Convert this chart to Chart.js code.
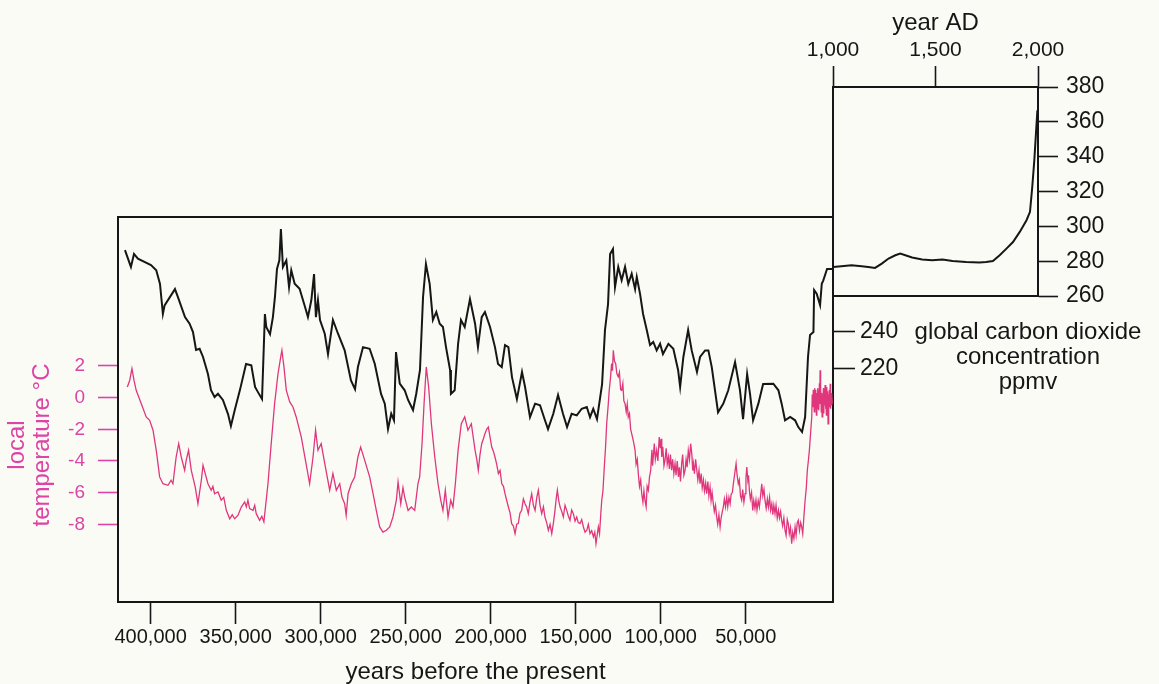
<!DOCTYPE html>
<html>
<head>
<meta charset="utf-8">
<script src="https://cdn.jsdelivr.net/npm/chart.js@4.4.1/dist/chart.umd.min.js"></script>
<style>
  html, body { margin: 0; padding: 0; background: #fbfbf6; }
  #wrap { position: relative; width: 1159px; height: 684px; }
  #wrap canvas { position: absolute; left: 0; top: 0; }
</style>
</head>
<body>
<div id="wrap">
  <canvas id="ice" width="1159" height="684"></canvas>
  <canvas id="recent" width="1159" height="684"></canvas>
</div>
<script>
// Vostok ice core: CO2 (ppmv) against years before present
const co2Years = [415100, 411600, 409800, 407500, 399800, 396700, 394500, 392800, 391800, 385700,
  384000, 379800, 377100, 375100, 373300, 371200, 369200, 366300, 364500, 362400,
  360400, 357500, 354500, 352800, 350600, 347500, 343900, 340800, 338600, 336900,
  334500, 332800, 332000, 329800, 328100, 326900, 325700, 324300, 323400, 322200,
  320200, 318600, 317300, 315300, 312400, 309200, 307500, 305500, 303900, 302800,
  301600, 300400, 297600, 295700, 292800, 289800, 285900, 282200, 279800, 278100,
  275100, 271200, 268200, 264500, 262300, 260400, 258500, 256900, 255700, 253500,
  250600, 248600, 245700, 243800, 241600, 239800, 238100, 235900, 234000, 232000,
  230000, 228100, 226300, 223900, 223400, 221200, 219200, 217500, 215300, 212200,
  209200, 207500, 205300, 203400, 200400, 197500, 195700, 193500, 191600, 189600,
  187500, 184600, 181600, 179800, 176900, 173900, 171000, 168100, 166300, 163200,
  160400, 157500, 155100, 152400, 149400, 146500, 143500, 141600, 139700, 137500,
  134500, 132800, 131000, 129800, 128100, 126900, 125000, 123000, 121000, 119100,
  117100, 115100, 114100, 112200, 110400, 108200, 106300, 104400, 102400, 100400,
  98700, 95500, 92600, 89800, 88600, 86700, 83900, 81800, 78700, 76900,
  73900, 72000, 70000, 68100, 66300, 63200, 60300, 56300, 53400, 51600,
  49200, 47500, 45700, 42600, 39800, 33800, 30800, 28900, 26900, 23900,
  21000, 19100, 16900, 15100, 13400, 12200, 10200, 9800, 8300, 6300,
  5300, 4400, 2200, -1300];
const co2Ppmv = [284.6, 275.4, 282.5, 279.9, 276.4, 273.6, 266.1, 249.7, 254.4, 263.3,
  259.0, 248.0, 244.4, 239.8, 230.0, 230.7, 226.2, 216.9, 208.1, 204.3,
  206.1, 202.7, 195.0, 188.5, 197.0, 208.1, 222.4, 221.6, 209.8, 207.0,
  203.2, 249.7, 242.6, 238.7, 248.0, 259.0, 274.3, 279.0, 296.1, 275.4,
  279.0, 264.4, 273.6, 266.2, 263.5, 253.5, 248.0, 257.2, 271.5, 248.0,
  257.2, 246.4, 238.9, 227.8, 246.4, 238.9, 229.8, 213.4, 208.6, 220.7,
  231.6, 230.7, 222.5, 206.0, 200.7, 186.8, 195.2, 191.6, 228.9, 211.6,
  208.0, 202.7, 197.2, 206.1, 219.1, 259.0, 277.0, 266.2, 246.4, 250.8,
  244.4, 242.6, 231.6, 219.1, 206.0, 208.0, 233.3, 246.4, 242.6, 257.8,
  244.4, 231.6, 248.0, 250.8, 242.6, 231.6, 222.4, 220.7, 232.7, 231.6,
  215.2, 203.2, 218.0, 209.8, 193.3, 200.7, 199.8, 191.6, 186.8, 195.2,
  205.4, 195.2, 187.9, 195.2, 194.3, 197.9, 198.9, 193.3, 197.9, 192.2,
  211.4, 240.9, 255.1, 282.4, 285.2, 264.4, 275.4, 268.1, 275.4, 266.2,
  271.7, 263.3, 269.9, 260.8, 249.7, 240.8, 232.7, 234.4, 229.8, 233.4,
  227.8, 233.4, 230.7, 219.1, 209.8, 226.2, 240.9, 229.8, 218.0, 226.2,
  229.8, 229.8, 220.7, 208.0, 196.0, 200.7, 208.0, 223.4, 208.0, 192.2,
  216.9, 206.1, 191.6, 200.7, 211.4, 211.6, 208.0, 200.7, 191.6, 193.4,
  191.6, 187.9, 185.2, 193.4, 226.2, 238.2, 239.8, 262.8, 260.8, 254.6,
  266.2, 268.1, 274.3, 274.3];

// Local temperature anomaly (deg C) against years before present
const tempYears = [
  413700, 412300, 411000, 409800, 408500, 405500, 402600, 400600, 398600, 396700,
  394700, 392800, 389800, 388000, 386900, 385000, 383500, 382000, 380000, 379100,
  377700, 376100, 373800, 372200, 370200, 369200, 367900, 366300, 364400, 363400,
  362400, 360400, 358500, 357000, 355500, 353500, 352000, 350600, 348600, 346700,
  344700, 343700, 342800, 341800, 339800, 338800, 337900, 335900, 334600, 333400,
  331000, 329100, 327100, 325100, 323500, 322800, 321600, 320200, 318200, 316300,
  314400, 311400, 308600, 306500, 304500, 303000, 301600, 299700, 297600, 294700,
  292800, 290800, 288800, 287500, 285900, 285000, 283900, 282000, 280000, 278100,
  276500, 274100, 271200, 269200, 267300, 265300, 263400, 261400, 259400, 257500,
  255500, 254500, 252900, 251600, 250600, 248600, 246700, 244700, 242800, 241800,
  240400, 239200, 237900, 236500, 234900, 232900, 231000, 229400, 228100, 226700,
  225100, 223500, 222200, 220800, 219200, 217300, 215300, 213400, 211400,
  209200, 208200, 207300, 206300, 205300, 204300, 203400, 202400, 201400, 200400,
  199400, 198400, 197500, 196500, 195500, 194500, 193500, 192500, 191600, 190600,
  189600, 188600, 187700, 186700, 185700, 184700, 183800, 182800, 181800, 180800,
  179800, 178900, 177900, 176900, 175900, 174900, 173900, 172900, 172000, 171000,
  170000, 169000, 168100, 167100, 166100, 165100, 164100, 163100, 162200, 161500,
  160800, 160000, 159200, 158200, 157300, 156300, 155300, 154300, 153400, 152400,
  151400, 150400, 149400, 148500, 147500, 146500, 145500, 144500, 143500, 142600,
  141600, 140600, 139600, 138800, 138100,
  136700, 136000, 135300, 134700, 134000, 133200, 132500, 131800, 131000, 130300,
  129600, 128900, 128400, 127900, 127200, 126500, 125800, 125000, 124300, 123600,
  123000, 122300, 121700, 121000, 120300, 119700, 119100, 118400, 117700, 117100,
  116400, 115800, 115100, 114500, 113800, 113200, 112500, 111800, 111200, 110500,
  109900, 109300, 108600, 108000, 107300, 106600, 105900, 105200, 104800, 104400,
  103800, 103200, 102400, 101700, 100900, 100300, 99800, 99400, 98800, 98100,
  97500, 96800, 96200, 95500, 94900, 94300, 93600, 93000, 92300, 91600,
  91000, 90300, 89600, 89000, 88400, 87700, 87100, 86400, 85700, 85100,
  84500, 83800, 83100, 82400, 81700, 81200, 80800, 80200, 79500, 78800,
  78200, 77500, 76900, 76200, 75600, 74900, 74300, 73600, 73000, 72300,
  71700, 71000, 70400, 69800, 69100, 68500, 67800, 67100, 66500, 65800,
  65100, 64500, 63800, 63200, 62600, 61900, 61200, 60600, 59900, 59200,
  58600, 57900, 57300, 56500, 55700, 55100, 54400, 53800, 53100, 52400,
  51800, 51100, 50400, 49900, 49400, 48800, 48400, 47900, 47300, 46600,
  45900, 45300, 44600, 44000, 43400, 42700, 42000, 41300, 40600, 40000,
  39300, 38700, 38000, 37300, 36700, 36000, 35400, 34700, 34100, 33500,
  32800, 32200, 31500, 30800, 30200, 29500, 28900, 28300, 27600, 26900,
  26300, 25600, 25000, 24400, 23700, 23000, 22400, 21700, 21000, 20400,
  19700, 19100, 18400, 17700, 17100, 16500, 15800, 15100, 14400, 13800,
  13200, 12600,
  11200, 10900, 10600, 10300, 10000, 9700, 9450, 9200, 8950, 8700,
  8450, 8200, 7950, 7700, 7450, 7200, 6950, 6700, 6450, 6300,
  6100, 5850, 5600, 5350, 5100, 4850, 4600, 4350, 4100, 3850,
  3600, 3350, 3100, 2850, 2600, 2350, 2100, 1850, 1600, 1350,
  1100, 850, 600, 350, 100, -150, -400, -650, -900];
const tempC = [
  0.67, 1.10, 1.83, 1.10, 0.46, -0.38, -1.22, -1.43, -2.06, -3.33,
  -5.01, -5.44, -5.54, -5.22, -5.44, -3.75, -2.91, -3.75, -4.59, -3.96,
  -3.33, -4.59, -5.64, -6.70, -5.22, -4.27, -4.80, -5.44, -5.85, -5.60,
  -6.07, -5.96, -6.48, -6.30, -7.12, -7.65, -7.40, -7.65, -7.43, -6.91,
  -6.59, -6.90, -6.48, -7.01, -7.12, -6.80, -7.33, -7.75, -7.50, -7.85,
  -5.44, -2.91, -0.38, 1.51, 2.57, 2.99, 1.94, 0.46, -0.27, -0.59,
  -1.22, -2.49, -4.17, -5.44, -3.75, -2.06, -3.33, -2.91, -4.17, -5.85,
  -4.80, -5.85, -5.44, -6.28, -6.70, -7.43, -6.07, -5.44, -5.01, -3.75,
  -3.12, -3.96, -5.01, -6.07, -7.12, -8.17, -8.49, -8.38, -8.17, -7.54,
  -6.48, -5.33, -6.70, -5.69, -6.28, -7.12, -6.91, -7.12, -5.44, -5.01,
  -2.91, -0.38, 1.94, 0.67, -1.65, -3.75, -5.44, -6.48, -7.12, -5.85,
  -7.54, -6.48, -6.91, -5.44, -3.33, -1.65, -1.22, -2.06, -1.65,
  -3.33, -3.90, -4.59, -3.60, -2.91, -2.60, -2.28, -2.00, -1.86, -2.50,
  -3.12, -3.40, -3.75, -4.20, -4.80, -4.60, -5.44, -5.60, -6.07, -6.50,
  -6.91, -7.30, -7.96, -8.10, -8.59, -8.00, -7.96, -7.30, -7.12, -6.40,
  -6.70, -6.90, -7.33, -6.60, -6.07, -6.80, -7.12, -6.30, -5.85, -6.80,
  -7.33, -6.90, -7.54, -7.90, -8.38, -8.00, -8.59, -7.90, -7.12, -6.40,
  -5.85, -6.50, -6.91, -7.20, -7.54, -6.80, -7.12, -7.50, -7.75, -7.10,
  -7.33, -7.80, -7.54, -7.90, -7.96, -7.70, -8.17, -8.50, -8.38, -8.00,
  -8.59, -8.40, -8.80, -8.50, -9.23,
  -8.17, -8.60, -7.40, -6.48, -5.90, -4.38, -3.20, -1.65, -0.60, 0.46,
  1.20, 2.15, 1.70, 2.99, 2.30, 2.15, 1.50, 1.31, 1.60, 0.50,
  0.46, 0.90, -0.20, -0.38, -0.90, -0.40, -1.22, -1.00, -2.00, -2.28,
  -2.60, -2.90, -3.33, -4.20, -3.90, -4.80, -5.60, -5.20, -6.07, -6.60,
  -5.90, -6.48, -6.90, -5.60, -5.85, -5.00, -4.59, -3.30, -4.30, -3.75,
  -2.90, -3.90, -3.33, -4.00, -2.49, -3.20, -2.60, -3.75, -3.10, -4.30,
  -3.96, -3.20, -4.20, -3.75, -4.50, -3.60, -4.59, -3.90, -4.80, -4.17,
  -4.90, -4.00, -5.01, -4.40, -5.30, -4.17, -3.60, -4.90, -4.59, -3.90,
  -4.40, -3.33, -3.90, -2.91, -3.60, -4.60, -4.17, -4.80, -3.90, -4.59,
  -5.20, -4.60, -5.44, -4.80, -5.70, -5.22, -5.90, -5.40, -6.07, -5.30,
  -6.20, -5.64, -6.50, -6.00, -6.70, -7.20, -6.80, -7.54, -8.00, -7.40,
  -8.17, -7.60, -7.20, -6.91, -6.40, -6.90, -6.28, -6.90, -6.30, -6.70,
  -6.10, -6.00, -5.44, -4.80, -4.17, -4.90, -5.44, -5.20, -6.20, -6.48,
  -5.80, -6.60, -6.07, -5.10, -4.38, -5.20, -4.90, -5.85, -6.40, -6.00,
  -7.12, -6.50, -7.00, -6.48, -7.10, -6.50, -6.91, -6.20, -5.44, -6.20,
  -5.80, -6.48, -7.00, -6.40, -6.91, -6.30, -7.10, -6.70, -7.40, -6.80,
  -7.33, -6.80, -7.60, -7.12, -7.60, -7.20, -7.75, -8.10, -7.60, -8.38,
  -8.70, -7.70, -7.96, -8.60, -8.20, -9.23, -8.50, -8.90, -8.17, -8.70,
  -7.90, -7.75, -8.40, -7.90, -8.17, -8.60, -7.50, -6.48, -5.70, -4.59,
  -4.00, -3.33,
  -1.22, 0.20, -0.60, 0.50, -0.20, -0.90, 0.60, -0.30, 0.50, -0.38,
  -1.10, 0.30, -0.70, 0.60, -0.50, 0.46, -0.80, 0.90, -0.40, 1.73,
  -0.30, 0.50, -0.90, 0.30, -1.22, 0.20, -0.60, 0.60, -1.00, 0.50,
  -0.50, 0.80, -0.70, 0.20, -1.10, 0.67, -0.50, 0.40, -1.65, 0.20,
  -0.80, 0.50, -0.60, 0.88, -0.70, 0.30, -0.50, 0.20, -0.38];

// Recent CO2 (ppmv) against calendar year AD
const adYears = [1000, 1041, 1090, 1140, 1172, 1205, 1238, 1271, 1304, 1328,
  1353, 1386, 1435, 1484, 1534, 1583, 1649, 1714, 1747, 1780,
  1813, 1846, 1878, 1911, 1944, 1961, 1972, 1982, 1990, 1997];
const adPpmv = [276.7, 277.1, 277.7, 277.1, 276.7, 276.1, 278.6, 281.5, 283.4, 284.4,
  283.4, 282.1, 280.9, 280.5, 280.9, 280.1, 279.5, 279.2, 279.5, 280.1,
  283.4, 287.2, 291.0, 296.8, 303.5, 308.3, 322.6, 337.9, 353.2, 366.6];

// Tick positions
const ageTicks = [400000, 350000, 300000, 250000, 200000, 150000, 100000, 50000];
const tempTicks = [-8, -6, -4, -2, 0, 2];
const co2MainTicks = [220, 240];
const adTicks = [1000, 1500, 2000];
const adPpmvTicks = [260, 280, 300, 320, 340, 360, 380];

const FONT = '"Liberation Sans", Arial, Helvetica, sans-serif';
const INK = '#161616';
const PINK_LINE = '#e0367c';
const PINK_TEXT = '#dc44a6';

Chart.defaults.font.family = FONT;

const ticksAt = values => scale => { scale.ticks = values.map(v => ({ value: v })); };
const thousands = v => Number(v).toLocaleString('en-US');
const pairs = (xs, ys) => xs.slice(0, ys.length).map((x, i) => ({ x, y: ys[i] }));

// Free-standing multi-line labels (axis captions that sit off the axis centre)
const captionPlugin = {
  id: 'caption',
  afterDraw(chart, args, opts) {
    const ctx = chart.ctx;
    (opts.items || []).forEach(item => {
      ctx.save();
      ctx.font = `${item.size}px ${FONT}`;
      ctx.fillStyle = item.color;
      ctx.textAlign = 'center';
      ctx.textBaseline = 'middle';
      ctx.translate(item.x, item.y);
      ctx.rotate(item.rotation || 0);
      item.lines.forEach((line, i) => ctx.fillText(line, 0, i * item.lineHeight));
      ctx.restore();
    });
  }
};

const tickGrid = (len, color) => ({ drawOnChartArea: false, tickLength: len, tickColor: color, tickWidth: 1.6 });
const frame = { color: INK, width: 2 };
const bare = { grid: { display: false }, ticks: { display: false }, border: frame };

// Main panel: 420,000 years of ice core record
new Chart(document.getElementById('ice'), {
  type: 'line',
  data: {
    datasets: [
      { data: pairs(co2Years, co2Ppmv), xAxisID: 'x', yAxisID: 'yCo2',
        borderColor: INK, borderWidth: 2, pointRadius: 0, tension: 0 },
      { data: pairs(tempYears, tempC), xAxisID: 'x', yAxisID: 'yTemp',
        borderColor: PINK_LINE, borderWidth: 1.3, pointRadius: 0, tension: 0 }
    ]
  },
  options: {
    responsive: false, animation: false, events: [],
    layout: { padding: { top: 217, left: 0, right: 0, bottom: 0 } },
    plugins: {
      legend: { display: false }, tooltip: { enabled: false },
      caption: { items: [
        { lines: ['local', 'temperature °C'], x: 17, y: 445, rotation: -Math.PI / 2,
          size: 24, lineHeight: 25, color: PINK_TEXT }
      ] }
    },
    scales: {
      x: {
        type: 'linear', position: 'bottom', reverse: true, min: -1300, max: 419200,
        afterBuildTicks: ticksAt(ageTicks), afterFit: s => { s.height = 82; },
        grid: tickGrid(22, INK), border: frame,
        ticks: { color: INK, font: { size: 20 }, padding: 1, maxRotation: 0, autoSkip: false, callback: thousands },
        title: { display: true, text: 'years before the present', color: INK,
                 font: { size: 24, lineHeight: 1 }, padding: { top: 0, bottom: 0 } }
      },
      xTop: { type: 'linear', position: 'top', afterFit: s => { s.height = 0; }, ...bare },
      yTemp: {
        type: 'linear', position: 'left', min: -12.91, max: 11.41,
        afterBuildTicks: ticksAt(tempTicks), afterFit: s => { s.width = 118; },
        grid: tickGrid(20, PINK_TEXT), border: frame,
        ticks: { color: PINK_TEXT, font: { size: 19 }, padding: 13 }
      },
      yCo2: {
        type: 'linear', position: 'right', min: 92.3, max: 302.7,
        afterBuildTicks: ticksAt(co2MainTicks), afterFit: s => { s.width = 326; },
        grid: tickGrid(22, INK), border: frame,
        ticks: { color: INK, font: { size: 23 }, padding: 5 }
      }
    }
  },
  plugins: [captionPlugin]
});

// Inset panel: the last thousand years
new Chart(document.getElementById('recent'), {
  type: 'line',
  data: {
    datasets: [
      { data: pairs(adYears, adPpmv), xAxisID: 'xAD', yAxisID: 'yAD',
        borderColor: INK, borderWidth: 2, pointRadius: 0, tension: 0 }
    ]
  },
  options: {
    responsive: false, animation: false, events: [],
    layout: { padding: 0 },
    plugins: {
      legend: { display: false }, tooltip: { enabled: false },
      caption: { items: [
        { lines: ['global carbon dioxide', 'concentration', 'ppmv'], x: 1028, y: 332,
          size: 24, lineHeight: 25, color: INK }
      ] }
    },
    scales: {
      xAD: {
        type: 'linear', position: 'top', min: 1000, max: 2000,
        afterBuildTicks: ticksAt(adTicks), afterFit: s => { s.height = 87; },
        grid: tickGrid(21, INK), border: frame,
        ticks: { color: INK, font: { size: 21 }, padding: 3, maxRotation: 0, autoSkip: false, callback: thousands },
        title: { display: true, text: 'year AD', color: INK,
                 font: { size: 24, lineHeight: 1 }, padding: { top: 11, bottom: 0 } }
      },
      xADbottom: { type: 'linear', position: 'bottom', afterFit: s => { s.height = 388; }, ...bare },
      yAD: {
        type: 'linear', position: 'right', min: 260, max: 380,
        afterBuildTicks: ticksAt(adPpmvTicks), afterFit: s => { s.width = 121; },
        grid: tickGrid(20, INK), border: frame,
        ticks: { color: INK, font: { size: 23 }, padding: 8 }
      },
      yADleft: { type: 'linear', position: 'left', afterFit: s => { s.width = 833; }, ...bare }
    }
  },
  plugins: [captionPlugin]
});
</script>
</body>
</html>
